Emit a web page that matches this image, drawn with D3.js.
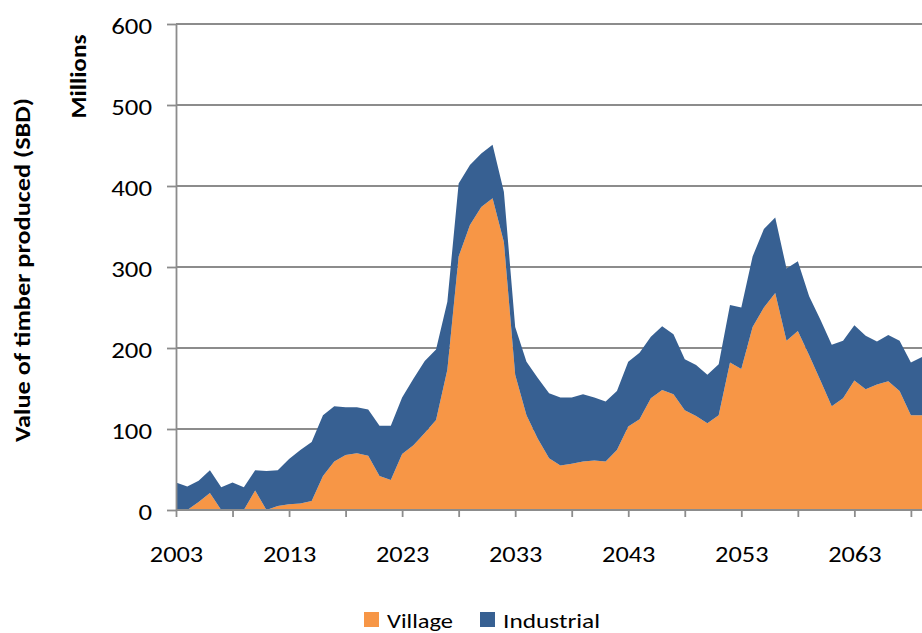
<!DOCTYPE html>
<html>
<head>
<meta charset="utf-8">
<script src="https://cdn.jsdelivr.net/npm/d3@7"></script>
<style>
  body { margin: 0; background: #fff; }
  svg { display: block; }
  text { font-family: Carlito, Lato, "Open Sans", sans-serif; fill: #000; }
</style>
</head>
<body>
<svg id="chart" width="922" height="633"></svg>
<script>
// Annual value of timber produced, millions SBD
const years = d3.range(2003, 2070);
const village = [
  0, 0, 10, 21, 0, 0, 0, 24, 0, 5,
  7, 8, 11, 42, 60, 68, 70, 67, 42, 37,
  69, 80, 95, 111, 173, 313, 352, 374, 385, 331,
  167, 117, 88, 64, 55, 57, 60, 61, 60, 74,
  103, 112, 138, 148, 143, 123, 116, 107, 117, 182,
  174, 226, 250, 268, 209, 221, 191, 160, 128, 138,
  160, 149, 155, 159, 147, 117, 117
];
const industrial = [
  34, 29, 26, 28, 28, 34, 28, 25, 48, 44,
  56, 66, 73, 75, 68, 59, 57, 57, 62, 67,
  70, 82, 89, 87, 84, 90, 74, 66, 66, 62,
  59, 66, 75, 80, 84, 82, 83, 78, 74, 73,
  80, 82, 76, 79, 74, 63, 63, 60, 63, 71,
  76, 87, 97, 93, 89, 86, 73, 75, 76, 71,
  68, 66, 53, 57, 62, 65, 72
];
const seriesNames = ["Village", "Industrial"];
const seriesColors = ["#F79646", "#376092"];
const yTicks = [0, 100, 200, 300, 400, 500, 600];
const xTickYears = d3.range(2003, 2070, 5);
const xLabelYears = d3.range(2003, 2070, 10);

const svg = d3.select("#chart");
const plot = { left: 176, right: 922.2, top: 24, bottom: 510 };
const gridColor = "#8c8c8c";
const digitWidth = 13.6;   // horizontal advance per numeral in tick labels

const x = d3.scaleLinear().domain([2003, 2069]).range([plot.left, plot.right]);
const y = d3.scaleLinear().domain([0, 600]).range([plot.bottom, plot.top]);

// horizontal gridlines
svg.append("g")
  .selectAll("line")
  .data(yTicks.filter(d => d > 0))
  .join("line")
  .attr("x1", plot.left).attr("x2", 922)
  .attr("y1", d => y(d)).attr("y2", d => y(d))
  .attr("stroke", gridColor).attr("stroke-width", 1.8);

// stacked areas
const rows = years.map((yr, i) => ({ year: yr, Village: village[i], Industrial: industrial[i] }));
const stacked = d3.stack().keys(seriesNames)(rows);
const area = d3.area()
  .x(d => x(d.data.year))
  .y0(d => y(d[0]))
  .y1(d => y(d[1]));

svg.append("g")
  .selectAll("path")
  .data(stacked)
  .join("path")
  .attr("d", area)
  .attr("fill", (d, i) => seriesColors[i]);

// y axis
const yAxis = svg.append("g")
  .attr("transform", `translate(${plot.left},0)`)
  .call(d3.axisLeft(y).tickValues(yTicks).tickSize(9).tickPadding(15).tickSizeOuter(0));
yAxis.select(".domain").attr("stroke", gridColor).attr("stroke-width", 1.8);
yAxis.selectAll(".tick line").attr("stroke", gridColor).attr("stroke-width", 1.8);
yAxis.selectAll(".tick text")
  .attr("font-size", 22)
  .attr("font-family", "Carlito, Lato, sans-serif")
  .attr("fill", "#000")
  .attr("dy", "0.43em")
  .attr("textLength", d => String(d).length * digitWidth)
  .attr("lengthAdjust", "spacingAndGlyphs");

// x axis
const xAxis = svg.append("g")
  .attr("transform", `translate(0,${plot.bottom})`)
  .call(d3.axisBottom(x)
    .tickValues(xTickYears)
    .tickSize(7)
    .tickPadding(29)
    .tickSizeOuter(0)
    .tickFormat(d => xLabelYears.includes(d) ? String(d) : ""));
xAxis.select(".domain").attr("stroke", gridColor).attr("stroke-width", 1.8)
  .attr("d", `M${plot.left},0H922`);
xAxis.selectAll(".tick line").attr("stroke", gridColor).attr("stroke-width", 1.8);
xAxis.selectAll(".tick text")
  .attr("font-size", 22)
  .attr("font-family", "Carlito, Lato, sans-serif")
  .attr("fill", "#000")
  .filter(d => xLabelYears.includes(d))
  .attr("textLength", d => String(d).length * digitWidth - 1)
  .attr("lengthAdjust", "spacingAndGlyphs");

// axis titles
svg.append("text")
  .attr("transform", "translate(30,270) rotate(-90)")
  .attr("text-anchor", "middle")
  .attr("font-size", 22)
  .attr("font-weight", "bold")
  .attr("textLength", 344)
  .attr("lengthAdjust", "spacingAndGlyphs")
  .text("Value of timber produced (SBD)");

svg.append("text")
  .attr("transform", "translate(86,76.5) rotate(-90)")
  .attr("text-anchor", "middle")
  .attr("font-size", 22)
  .attr("font-weight", "bold")
  .attr("textLength", 84)
  .attr("lengthAdjust", "spacingAndGlyphs")
  .text("Millions");

// legend
const legendItems = [
  { name: seriesNames[0], color: seriesColors[0], x: 364, len: 66 },
  { name: seriesNames[1], color: seriesColors[1], x: 480, len: 97 }
];
const legend = svg.append("g");
legend.selectAll("rect")
  .data(legendItems)
  .join("rect")
  .attr("x", d => d.x).attr("y", 612)
  .attr("width", 15).attr("height", 15)
  .attr("fill", d => d.color);
legend.selectAll("text")
  .data(legendItems)
  .join("text")
  .attr("x", d => d.x + 23).attr("y", 628)
  .attr("font-size", 21)
  .attr("textLength", d => d.len)
  .attr("lengthAdjust", "spacingAndGlyphs")
  .text(d => d.name);
</script>
</body>
</html>
